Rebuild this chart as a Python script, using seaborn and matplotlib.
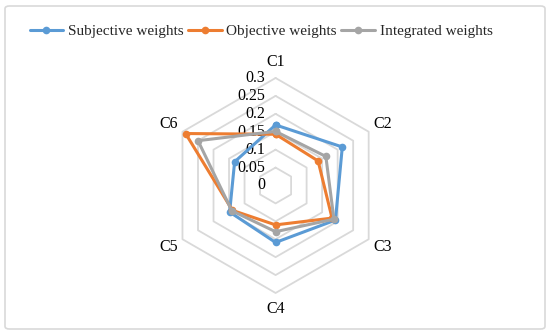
import numpy as np
import pandas as pd
import matplotlib
matplotlib.use('Agg')
import matplotlib.pyplot as plt
import seaborn as sns
from matplotlib.patches import FancyBboxPatch
from matplotlib.lines import Line2D

categories = ['C1', 'C2', 'C3', 'C4', 'C5', 'C6']
subjective = [0.169, 0.215, 0.193, 0.159, 0.148, 0.132]
objective = [0.143, 0.137, 0.182, 0.110, 0.139, 0.290]
integrated = [0.151, 0.162, 0.188, 0.129, 0.141, 0.250]
series_names = ['Subjective weights', 'Objective weights', 'Integrated weights']
levels = [0, 0.05, 0.1, 0.15, 0.2, 0.25, 0.3]
level_labels = ['0', '0.05', '0.1', '0.15', '0.2', '0.25', '0.3']
colors = ['#5B9BD5', '#ED7D31', '#A5A5A5']

sns.set_theme(style='white')
plt.rcParams['font.family'] = ['Liberation Serif', 'DejaVu Serif']

n = len(categories)
angles = np.linspace(0, 2 * np.pi, n, endpoint=False)
closed_angles = np.append(angles, 2 * np.pi)

rows = []
for name, vals in zip(series_names, [subjective, objective, integrated]):
    for i, th in enumerate(closed_angles):
        rows.append({'theta': th, 'r': vals[i % n], 'series': name})
df = pd.DataFrame(rows)

fig = plt.figure(figsize=(5.5, 3.34), dpi=100)
ax = fig.add_axes([0.3056, 0.1228, 0.3909, 0.6437], projection='polar')
ax.set_theta_zero_location('N')
ax.set_theta_direction(-1)
ax.set_ylim(0, 0.3)
ax.grid(False)
ax.spines['polar'].set_visible(False)
ax.set_xticks([])
ax.set_yticks([])

for lv in levels[1:]:
    ax.plot(closed_angles, [lv] * (n + 1), color='#D9D9D9', lw=1.3,
            zorder=1, clip_on=False)

sns.lineplot(data=df, x='theta', y='r', hue='series', palette=colors,
             sort=False, estimator=None, marker='o', markersize=5.5,
             markeredgewidth=0, linewidth=2.2, ax=ax, legend=False,
             zorder=3, clip_on=False)
for ln in ax.lines:
    ln.set_clip_on(False)

for lv, lab in zip(levels, level_labels):
    ax.annotate(lab, xy=(0, lv), xytext=(-7.5, 0), textcoords='offset points',
                ha='right', va='center', fontsize=11.5, color='#000000',
                annotation_clip=False, zorder=2)

for th, cat in zip(angles, categories):
    ax.text(th, 0.345, cat, ha='center', va='center', fontsize=11.5,
            color='#000000', clip_on=False)

ax.set_xlabel('')
ax.set_ylabel('')

handles = [Line2D([], [], color=c, lw=2.2, marker='o', markersize=5.5,
                  markeredgewidth=0) for c in colors]
fig.legend(handles, series_names, loc='center',
           bbox_to_anchor=(261 / 550, 1 - 31 / 334), ncol=3, frameon=False,
           handlelength=2.2, handletextpad=0.3, columnspacing=0.3,
           fontsize=11, borderaxespad=0)

fig.patches.append(FancyBboxPatch((5 / 550, 5 / 334), 540 / 550, 323 / 334,
                                  boxstyle='round,pad=0,rounding_size=0.008',
                                  transform=fig.transFigure, fill=False,
                                  ec='#D9D9D9', lw=1.2))

fig.savefig('out.png', dpi=100)
